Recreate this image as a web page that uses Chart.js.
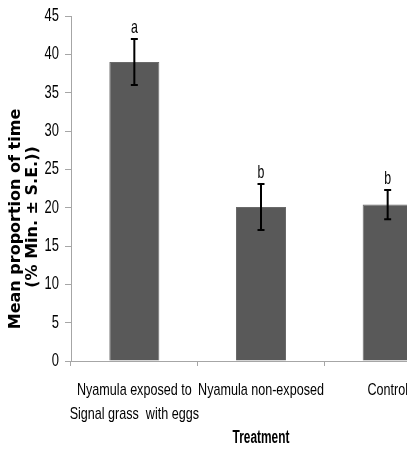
<!DOCTYPE html>
<html>
<head>
<meta charset="utf-8">
<script src="https://cdn.jsdelivr.net/npm/chart.js@4.4.1/dist/chart.umd.min.js"></script>
<style>
  html, body { margin: 0; padding: 0; background: #fff; overflow: hidden; width: 407px; height: 452px; }
  canvas { display: block; }
</style>
</head>
<body>
<canvas id="c" width="460" height="452" style="width:460px;height:452px"></canvas>
<script>
// ---- data ----
const categories = [
  ["Nyamula exposed to", "Signal grass  with eggs"],
  ["Nyamula non-exposed"],
  ["Control"]
];
const meanValues = [39.0, 20.1, 20.4];
const seValues = [3.0, 3.0, 1.9];
const sigLetters = ["a", "b", "b"];
const yTicks = [0, 5, 10, 15, 20, 25, 30, 35, 40, 45];
const yTitleLines = ["Mean proportion of time", "(% Min. \u00b1 S.E.))"];
const xTitle = "Treatment";

const SANS = '"Liberation Sans", Arial, sans-serif';

// draw text squeezed horizontally (the original uses a tall, narrow face)
function narrowText(ctx, text, x, y, font, sx, align, baseline) {
  ctx.save();
  ctx.font = font;
  ctx.textAlign = align;
  ctx.textBaseline = baseline;
  ctx.fillStyle = '#000';
  ctx.translate(x, y);
  ctx.scale(sx, 1);
  ctx.fillText(text, 0, 0);
  ctx.restore();
}

const errorBarPlugin = {
  id: 'errorBars',
  afterDatasetsDraw(chart) {
    const ctx = chart.ctx;
    const meta = chart.getDatasetMeta(0);
    const y = chart.scales.y;
    ctx.save();
    ctx.strokeStyle = '#000';
    ctx.lineWidth = 2;
    meta.data.forEach((bar, i) => {
      const x = bar.x;
      const top = y.getPixelForValue(meanValues[i] + seValues[i]);
      const bot = y.getPixelForValue(meanValues[i] - seValues[i]);
      ctx.beginPath();
      ctx.moveTo(x, top); ctx.lineTo(x, bot);
      ctx.moveTo(x - 3.5, top); ctx.lineTo(x + 3.5, top);
      ctx.moveTo(x - 3.5, bot); ctx.lineTo(x + 3.5, bot);
      ctx.stroke();
      narrowText(ctx, sigLetters[i], x, top - 6, '19px ' + SANS, 0.65, 'center', 'alphabetic');
    });
    ctx.restore();
  }
};

const textPlugin = {
  id: 'axisTexts',
  afterDraw(chart) {
    const ctx = chart.ctx;
    const xs = chart.scales.x;
    const ys = chart.scales.y;
    const area = chart.chartArea;
    // y tick labels
    yTicks.forEach(v => {
      narrowText(ctx, String(v), 59, ys.getPixelForValue(v), '18px ' + SANS, 0.72, 'right', 'middle');
    });
    // x category labels
    categories.forEach((lines, i) => {
      const cx = xs.getPixelForValue(i);
      lines.forEach((t, j) => {
        narrowText(ctx, t, cx, area.bottom + 29 + 24 * j, '17px ' + SANS, 0.74, 'center', 'middle');
      });
    });
    // x title
    narrowText(ctx, xTitle, (area.left + area.right) / 2, 438, 'bold 18px ' + SANS, 0.66, 'center', 'middle');
    // y title (two lines, rotated)
    ctx.save();
    ctx.fillStyle = '#000';
    ctx.font = 'bold 16px "DejaVu Sans", sans-serif';
    ctx.textAlign = 'center';
    ctx.textBaseline = 'middle';
    const pos = [[16, 219], [33, 217]];
    yTitleLines.forEach((t, i) => {
      ctx.save();
      ctx.translate(pos[i][0], pos[i][1]);
      ctx.rotate(-Math.PI / 2);
      ctx.fillText(t, 0, 0);
      ctx.restore();
    });
    ctx.restore();
  }
};

new Chart(document.getElementById('c'), {
  type: 'bar',
  data: {
    labels: categories,
    datasets: [{
      data: meanValues,
      backgroundColor: '#595959',
      borderColor: '#6a6a6a',
      borderWidth: 1,
      categoryPercentage: 0.395,
      barPercentage: 1.0
    }]
  },
  options: {
    responsive: false,
    animation: false,
    devicePixelRatio: 1,
    layout: { padding: { top: 16, right: 9, left: 0, bottom: 0 } },
    plugins: { legend: { display: false }, tooltip: { enabled: false }, title: { display: false } },
    scales: {
      x: {
        grid: { display: true, drawOnChartArea: false, offset: true, tickLength: 5, color: '#a6a6a6' },
        border: { display: true, color: '#a6a6a6', width: 1 },
        ticks: { display: false },
        afterFit(scale) { scale.height = 91; }
      },
      y: {
        min: 0,
        max: 45,
        afterBuildTicks(scale) { scale.ticks = yTicks.map(v => ({ value: v })); },
        grid: { display: true, drawOnChartArea: false, tickLength: 6, color: '#a6a6a6' },
        border: { display: true, color: '#a6a6a6', width: 1 },
        ticks: { display: false },
        afterFit(scale) { scale.width = 71; }
      }
    }
  },
  plugins: [errorBarPlugin, textPlugin]
});
</script>
</body>
</html>
